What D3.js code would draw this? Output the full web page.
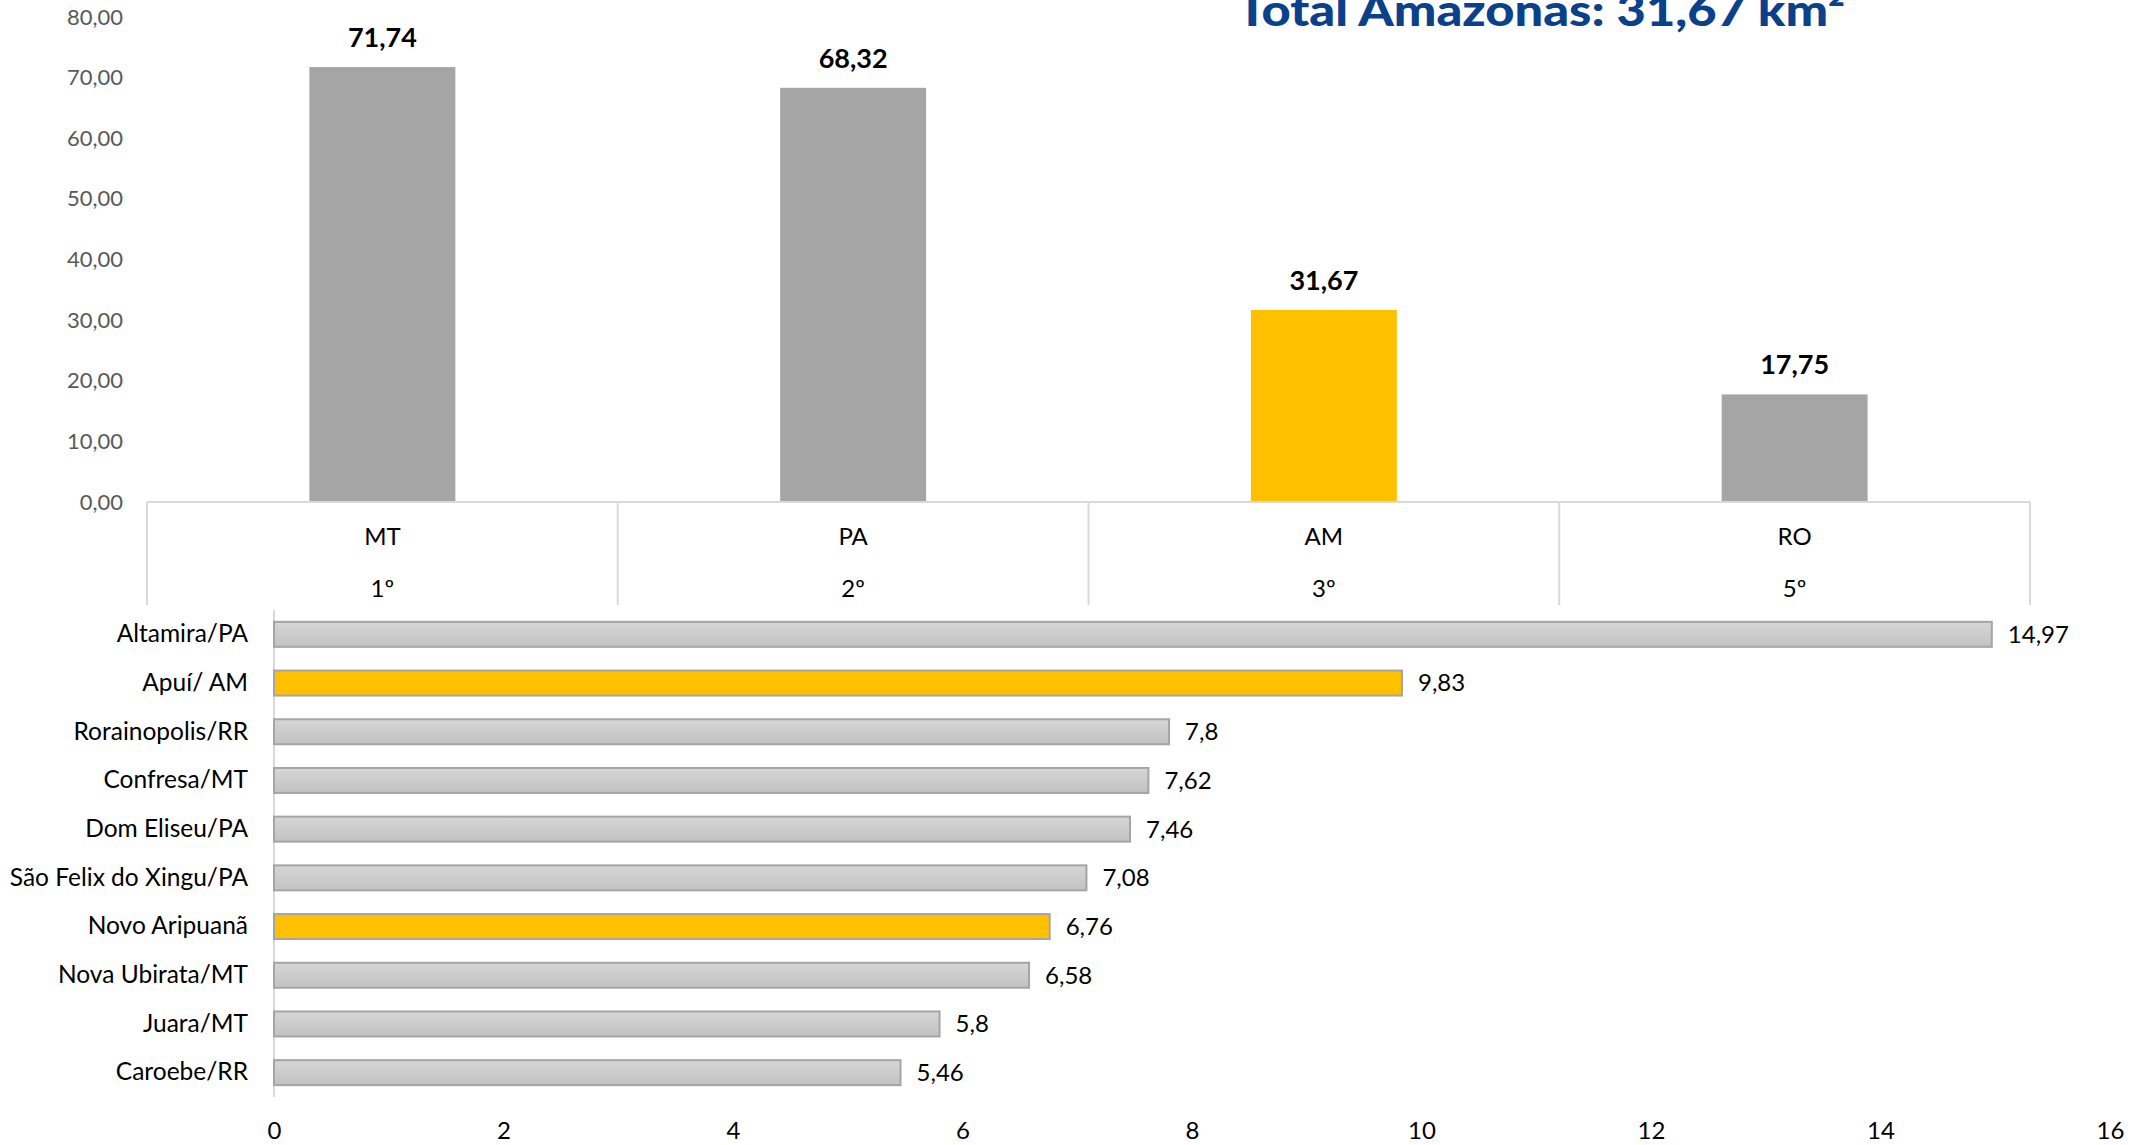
<!DOCTYPE html>
<html>
<head>
<meta charset="utf-8">
<script src="https://cdn.jsdelivr.net/npm/d3@7"></script>
<style>
  body { margin: 0; background: #fff; }
  text { font-family: Lato, "Open Sans", sans-serif; }
</style>
</head>
<body>
<script>
// Data

var states = ["MT", "PA", "AM", "RO"];
var ranks = ["1º", "2º", "3º", "5º"];
var stateValues = [71.74, 68.32, 31.67, 17.75];
var stateHighlight = "AM";

var cities = ["Altamira/PA", "Apuí/ AM", "Rorainopolis/RR", "Confresa/MT", "Dom Eliseu/PA",
              "São Felix do Xingu/PA", "Novo Aripuanã", "Nova Ubirata/MT", "Juara/MT", "Caroebe/RR"];
var cityValues = [14.97, 9.83, 7.8, 7.62, 7.46, 7.08, 6.76, 6.58, 5.8, 5.46];
var cityHighlight = ["Apuí/ AM", "Novo Aripuanã"];

var topTicks = [0, 10, 20, 30, 40, 50, 60, 70, 80];
var bottomTicks = [0, 2, 4, 6, 8, 10, 12, 14, 16];

var titleText = "Total Amazonas: 31,67 km²";

var W = 2151, H = 1145;
var comma = function(v) { return String(v).replace(".", ","); };

var svg = d3.select("body").append("svg")
    .attr("width", W)
    .attr("height", H);

var defs = svg.append("defs");
var grad = defs.append("linearGradient")
    .attr("id", "grayBar")
    .attr("x1", 0).attr("y1", 0).attr("x2", 0).attr("y2", 1);
grad.append("stop").attr("offset", "0%").attr("stop-color", "#d6d6d6");
grad.append("stop").attr("offset", "100%").attr("stop-color", "#c2c2c2");

// Title (its top is cut off by the picture edge, as in the original)
svg.append("text")
    .attr("x", 1237)
    .attr("y", 26)
    .attr("textLength", 608)
    .attr("lengthAdjust", "spacingAndGlyphs")
    .style("font-size", "44px")
    .style("font-weight", 900)
    .style("fill", "#0b408a")
    .text(titleText);

// 1. Top chart: states

var xTop = d3.scaleBand()
    .domain(states)
    .range([147, 2030]);
var yTop = d3.scaleLinear()
    .domain([0, 80])
    .range([502, 17]);

var barW = xTop.bandwidth() * 0.31;

var yAxisTop = svg.append("g")
    .attr("transform", "translate(147,0)")
    .call(d3.axisLeft(yTop).tickValues(topTicks).tickSize(0).tickPadding(24)
        .tickFormat(function(d) { return d3.format(".2f")(d).replace(".", ","); }));
yAxisTop.select(".domain").remove();
yAxisTop.selectAll("text")
    .style("font-size", "22px")
    .style("font-family", "Lato, sans-serif")
    .style("fill", "#595959");

svg.selectAll(".sbar")
    .data(states)
    .enter().append("rect")
    .attr("class", "sbar")
    .attr("x", function(d) { return xTop(d) + (xTop.bandwidth() - barW) / 2; })
    .attr("width", barW)
    .attr("y", function(d, i) { return yTop(stateValues[i]); })
    .attr("height", function(d, i) { return yTop(0) - yTop(stateValues[i]); })
    .attr("fill", function(d) { return d === stateHighlight ? "#ffc000" : "#a5a5a5"; });

svg.selectAll(".slabel")
    .data(states)
    .enter().append("text")
    .attr("class", "slabel")
    .attr("x", function(d) { return xTop(d) + xTop.bandwidth() / 2; })
    .attr("y", function(d, i) { return yTop(stateValues[i]) - 20; })
    .attr("text-anchor", "middle")
    .style("font-size", "27px")
    .style("font-weight", 700)
    .style("fill", "#000")
    .text(function(d, i) { return comma(stateValues[i]); });

// category axis box
svg.append("line")
    .attr("x1", 147).attr("x2", 2030)
    .attr("y1", yTop(0)).attr("y2", yTop(0))
    .attr("stroke", "#d9d9d9").attr("stroke-width", 2);

var bounds = states.map(function(d) { return xTop(d); }).concat([xTop.range()[1]]);
svg.selectAll(".sdiv")
    .data(bounds)
    .enter().append("line")
    .attr("class", "sdiv")
    .attr("x1", function(d) { return d; }).attr("x2", function(d) { return d; })
    .attr("y1", yTop(0)).attr("y2", 605)
    .attr("stroke", "#d9d9d9").attr("stroke-width", 2);

svg.selectAll(".sname")
    .data(states)
    .enter().append("text")
    .attr("class", "sname")
    .attr("x", function(d) { return xTop(d) + xTop.bandwidth() / 2; })
    .attr("y", 545)
    .attr("text-anchor", "middle")
    .style("font-size", "24px")
    .style("fill", "#000")
    .text(function(d) { return d; });

svg.selectAll(".srank")
    .data(states)
    .enter().append("text")
    .attr("class", "srank")
    .attr("x", function(d) { return xTop(d) + xTop.bandwidth() / 2; })
    .attr("y", 597)
    .attr("text-anchor", "middle")
    .style("font-size", "24px")
    .style("fill", "#000")
    .text(function(d, i) { return ranks[i]; });

// 2. Bottom chart: municipalities

var xB = d3.scaleLinear()
    .domain([0, 16])
    .range([274, 2110]);
var yB = d3.scaleBand()
    .domain(cities)
    .range([610, 1097])
    .paddingInner(0.487)
    .paddingOuter(0.2435);

var xAxisB = svg.append("g")
    .attr("transform", "translate(0,1097)")
    .call(d3.axisBottom(xB).tickValues(bottomTicks).tickSize(0).tickPadding(25));
xAxisB.select(".domain").remove();
xAxisB.selectAll("text")
    .style("font-size", "24px")
    .style("font-family", "Lato, sans-serif")
    .style("fill", "#000");

var yAxisB = svg.append("g")
    .attr("transform", "translate(274,0)")
    .call(d3.axisLeft(yB).tickSize(0).tickPadding(26));
yAxisB.select(".domain").remove();
yAxisB.selectAll("text")
    .style("font-size", "24.5px")
    .style("font-family", "Lato, sans-serif")
    .style("fill", "#000");

svg.append("line")
    .attr("x1", 274).attr("x2", 274)
    .attr("y1", 610).attr("y2", 1097)
    .attr("stroke", "#d9d9d9").attr("stroke-width", 2);

svg.selectAll(".cbar")
    .data(cities)
    .enter().append("rect")
    .attr("class", "cbar")
    .attr("x", xB(0))
    .attr("y", function(d) { return yB(d); })
    .attr("width", function(d, i) { return xB(cityValues[i]) - xB(0); })
    .attr("height", yB.bandwidth())
    .attr("fill", function(d) { return cityHighlight.indexOf(d) >= 0 ? "#ffc000" : "url(#grayBar)"; })
    .attr("stroke", "#a5a5a5")
    .attr("stroke-width", 2);

svg.selectAll(".cval")
    .data(cities)
    .enter().append("text")
    .attr("class", "cval")
    .attr("x", function(d, i) { return xB(cityValues[i]) + 16; })
    .attr("y", function(d) { return yB(d) + yB.bandwidth() / 2; })
    .attr("dy", "0.35em")
    .style("font-size", "24px")
    .style("fill", "#000")
    .text(function(d, i) { return comma(cityValues[i]); });
</script>
</body>
</html>
